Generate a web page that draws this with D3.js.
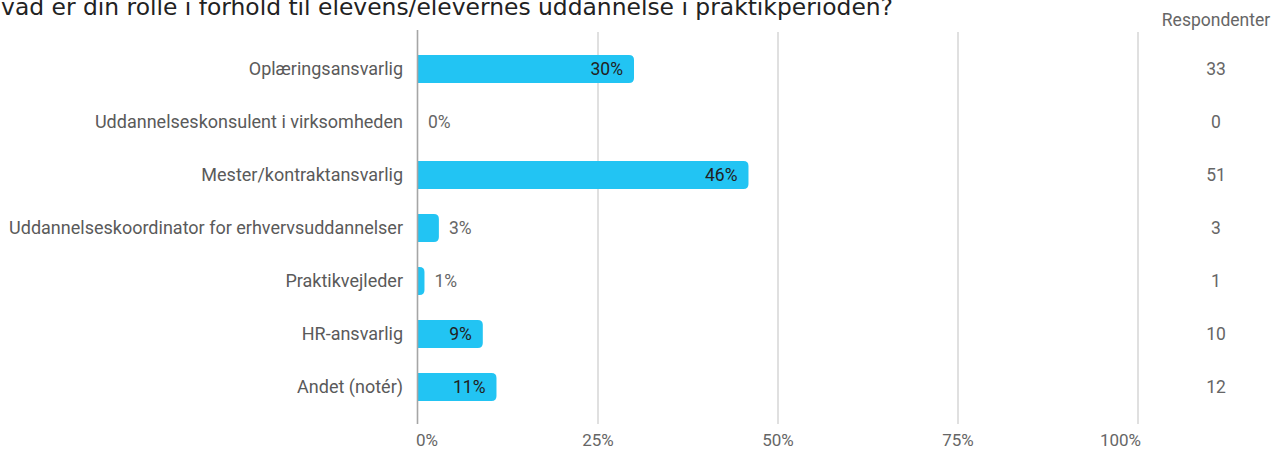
<!DOCTYPE html>
<html>
<head>
<meta charset="utf-8">
<script src="https://cdn.jsdelivr.net/npm/d3@7"></script>
<style>
  html, body { margin: 0; padding: 0; background: #fff; overflow: hidden; }
  svg { display: block; }
</style>
</head>
<body>
<svg id="chart" width="1274" height="450"></svg>
<script>
const title = "Hvad er din rolle i forhold til elevens/elevernes uddannelse i praktikperioden?";
const categories = [
  "Oplæringsansvarlig",
  "Uddannelseskonsulent i virksomheden",
  "Mester/kontraktansvarlig",
  "Uddannelseskoordinator for erhvervsuddannelser",
  "Praktikvejleder",
  "HR-ansvarlig",
  "Andet (notér)"
];
const percentValues = [30.0, 0, 45.9, 2.9, 0.9, 9.0, 10.9];
const percentLabels = ["30%", "0%", "46%", "3%", "1%", "9%", "11%"];
const respondents = [33, 0, 51, 3, 1, 10, 12];
const respondentsHeader = "Respondenter";
const xTicks = [0, 25, 50, 75, 100];

const svg = d3.select("#chart");
const x = d3.scaleLinear().domain([0, 100]).range([418, 1138]);
const y = d3.scalePoint().domain(categories).range([69, 387]);
const barH = 28;
const r = 5;
const font = "Roboto, 'Noto Sans', sans-serif";

// title (clipped at top-left like the reference)
svg.append("text")
  .attr("x", -16.5).attr("y", 14.5)
  .attr("font-family", "Verdana, 'DejaVu Sans', sans-serif")
  .attr("font-size", 23.4)
  .attr("fill", "#222")
  .text(title);

// gridlines
svg.append("g").selectAll("line").data(xTicks.slice(1)).join("line")
  .attr("x1", d => x(d)).attr("x2", d => x(d))
  .attr("y1", 32).attr("y2", 424)
  .attr("stroke", "#cccccc").attr("stroke-width", 1.2);

// x tick labels
svg.append("g").selectAll("text").data(xTicks).join("text")
  .attr("x", (d, i) => i === 0 ? x(d) - 2 : (i === xTicks.length - 1 ? x(d) + 3 : x(d)))
  .attr("y", 446)
  .attr("text-anchor", (d, i) => i === 0 ? "start" : (i === xTicks.length - 1 ? "end" : "middle"))
  .attr("font-family", font).attr("font-size", 17).attr("fill", "#666")
  .text(d => d + "%");

// bars with rounded right end
function barPath(x0, x1, yc) {
  const top = yc - barH / 2, bot = yc + barH / 2;
  const w = x1 - x0;
  if (w <= 0) return "";
  const rr = Math.min(r, w, barH / 2);
  return `M${x0},${top} L${x1 - rr},${top} Q${x1},${top} ${x1},${top + rr} L${x1},${bot - rr} Q${x1},${bot} ${x1 - rr},${bot} L${x0},${bot} Z`;
}
const rows = categories.map((c, i) => ({ c, v: percentValues[i], lbl: percentLabels[i], n: respondents[i] }));

svg.append("g").selectAll("path").data(rows).join("path")
  .attr("d", d => barPath(x(0), x(d.v), y(d.c)))
  .attr("fill", "#22c4f3");

// zero line
svg.append("line")
  .attr("x1", x(0) - 0.5).attr("x2", x(0) - 0.5)
  .attr("y1", 30).attr("y2", 424)
  .attr("stroke", "#a6a6a6").attr("stroke-width", 1.6);

// value labels
svg.append("g").selectAll("text").data(rows).join("text")
  .each(function(d) {
    const inside = (x(d.v) - x(0)) > 40;
    d3.select(this)
      .attr("x", inside ? x(d.v) - 11 : x(d.v) + 10)
      .attr("text-anchor", inside ? "end" : "start")
      .attr("fill", inside ? "#212121" : "#666");
  })
  .attr("y", d => y(d.c) + 6)
  .attr("font-family", font).attr("font-size", 17.5)
  .text(d => d.lbl);

// category labels
svg.append("g").selectAll("text").data(rows).join("text")
  .attr("x", 403).attr("y", d => y(d.c) + 6)
  .attr("text-anchor", "end")
  .attr("font-family", font).attr("font-size", 18).attr("fill", "#5a5a5a")
  .text(d => d.c);

// respondents column
svg.append("text")
  .attr("x", 1216).attr("y", 26).attr("text-anchor", "middle")
  .attr("font-family", font).attr("font-size", 17.5).attr("fill", "#666")
  .text(respondentsHeader);
svg.append("g").selectAll("text").data(rows).join("text")
  .attr("x", 1216).attr("y", d => y(d.c) + 6).attr("text-anchor", "middle")
  .attr("font-family", font).attr("font-size", 17.5).attr("fill", "#666")
  .text(d => d.n);
</script>
</body>
</html>
